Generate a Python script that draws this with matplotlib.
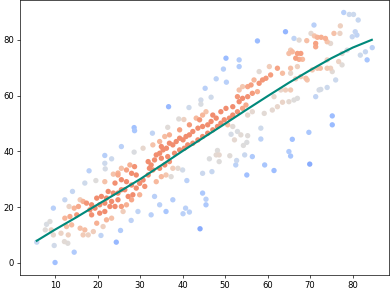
import numpy as np
import matplotlib
matplotlib.use("Agg")
import matplotlib.pyplot as plt
from matplotlib.colors import LinearSegmentedColormap

# ---- scatter data ----
x_vals = [
    18.0, 21.8, 17.0, 19.6, 14.1, 12.3, 9.6, 13.3, 14.5, 15.9, 17.4, 8.8, 8.0, 7.7, 9.1, 9.6, 5.7, 9.8, 14.5, 10.0,
    12.2, 13.0, 11.4, 13.1, 12.7, 13.9, 12.3, 13.5, 15.1, 15.9, 17.0, 16.6, 17.8, 19.0, 19.8, 21.3, 22.1, 20.8, 24.4, 25.4,
    23.3, 18.2, 16.6, 18.6, 19.4, 20.5, 21.7, 19.8, 20.9, 22.1, 23.3, 22.9, 24.1, 21.7, 20.5, 18.6, 22.5, 23.7, 24.8, 25.6,
    24.1, 21.7, 24.8, 23.7, 26.0, 15.5,
    28.6, 28.7, 25.6, 21.7, 23.3, 21.7, 28.6, 30.7, 36.9, 35.8, 34.6, 33.0, 32.2, 31.9, 30.7, 29.9, 31.1, 29.1, 28.0, 26.8,
    25.6, 26.4, 24.8, 25.6, 26.8, 28.0, 27.2, 28.3, 29.9, 29.1, 28.0, 26.8, 25.6, 24.8, 27.6, 28.7, 31.9, 33.8, 35.0, 36.1,
    37.7, 38.9, 40.0, 37.3, 37.7, 34.6, 36.1, 32.6, 29.5, 33.4, 27.9,
    49.6, 53.3, 47.9, 50.3, 45.3, 44.3, 46.7, 44.3, 36.7, 41.5, 39.1, 40.3, 36.5, 32.9,
    51.4, 53.7, 52.2, 51.8, 52.9,
    43.2, 44.0, 44.7, 45.5, 47.1, 47.9, 46.7, 45.9, 44.7, 43.6, 42.4, 41.6, 40.8, 40.1, 39.3, 38.5, 37.7, 36.9, 36.2, 35.4,
    34.6, 33.8, 33.4, 35.0, 36.5, 38.1, 39.3, 40.4, 41.2, 42.4, 43.6, 44.7, 45.9, 47.1, 48.2, 49.0, 49.8, 51.0, 51.8, 52.9,
    54.1, 54.9, 53.3, 54.1, 52.9, 51.8, 50.2, 49.0, 50.6, 39.3, 41.6, 36.9, 35.8, 34.6, 35.0, 33.0, 32.6,
    55.3, 58.4, 65.8, 69.7, 55.1, 54.3, 48.2, 48.6, 47.9, 51.1, 54.6, 56.4, 46.3, 48.6, 52.7, 52.5, 59.3, 61.5, 55.1, 65.0,
    65.4, 69.9, 44.7, 46.9, 41.0, 44.7, 45.5, 45.5, 40.7, 40.1, 41.6, 44.1,
    57.6, 50.2, 53.3, 58.0, 60.4, 62.3, 63.5, 60.7, 59.6, 58.8, 58.0, 56.8, 56.1, 55.3, 54.1, 53.3, 55.3, 56.4, 57.6, 55.3,
    56.4, 61.1, 59.2, 61.5, 63.1, 63.5, 62.3,
    77.9, 79.2, 80.2, 81.3, 70.9, 77.1, 75.6, 77.0, 80.6, 79.9, 81.0, 70.2, 71.0, 71.7, 72.6, 73.6, 74.0, 74.8, 71.3, 71.3,
    69.2, 67.4, 66.2, 64.2, 65.4, 65.0, 65.8, 67.0, 67.8, 66.6, 67.4, 68.2, 65.4, 67.0, 65.4, 66.6, 67.8, 69.0, 69.3,
    83.0, 84.6, 81.8, 83.4, 78.7, 77.5, 76.7, 77.5, 74.0, 74.8, 74.0, 72.4, 75.2, 76.0, 70.5, 71.7,
    64.2, 65.4, 67.0, 66.2, 65.0, 71.3, 72.1, 72.5, 74.0, 75.2, 75.2, 58.4,
]
y_vals = [
    33.0, 33.7, 28.6, 29.5, 25.6, 22.6, 19.6, 20.2, 19.6, 22.6, 21.4, 14.8, 13.8, 11.8, 11.8, 10.0, 7.4, 6.2, 3.8, 0.1,
    7.6, 7.0, 10.6, 10.0, 13.0, 13.6, 16.0, 16.6, 17.2, 12.4, 11.8, 10.0, 10.0, 11.2, 14.2, 13.0, 15.4, 9.8, 7.4, 11.6,
    16.0, 19.0, 22.0, 20.8, 19.6, 20.8, 21.4, 23.2, 23.8, 23.2, 22.0, 20.2, 20.2, 18.4, 17.8, 17.2, 25.6, 25.0, 22.6, 26.2,
    28.6, 29.1, 32.2, 31.8, 18.4, 20.2,
    48.5, 47.4, 41.7, 38.5, 37.3, 35.7, 39.7, 41.1, 36.3, 35.1, 33.9, 33.3, 33.9, 31.5, 29.7, 28.5, 27.4, 26.8, 27.9, 29.1,
    29.8, 26.2, 25.0, 20.2, 20.8, 22.6, 23.8, 24.4, 24.4, 31.5, 32.1, 33.3, 33.9, 31.5, 35.1, 34.5, 36.3, 29.1, 30.9, 31.5,
    33.9, 33.9, 33.3, 30.9, 22.6, 20.8, 18.4, 17.2, 18.4, 23.8, 15.2,
    69.5, 70.4, 66.0, 64.8, 62.6, 58.4, 59.4, 56.9, 56.0, 55.7, 51.6, 51.4, 48.6, 46.5,
    46.1, 45.9, 44.1, 48.9, 47.1,
    51.9, 51.3, 53.0, 54.2, 53.0, 51.9, 50.7, 49.5, 48.9, 48.3, 47.1, 45.9, 45.3, 44.1, 44.7, 43.5, 42.3, 42.9, 41.1, 40.5,
    39.3, 38.7, 36.9, 37.5, 38.1, 39.3, 40.5, 41.1, 42.3, 42.9, 44.1, 45.3, 46.5, 47.7, 48.9, 50.1, 51.3, 51.9, 53.0, 54.2,
    55.4, 56.6, 57.8, 59.0, 59.6, 56.0, 55.4, 54.2, 49.5, 47.7, 49.5, 45.9, 45.3, 43.5, 41.7, 42.3, 35.1,
    45.6, 44.4, 44.3, 46.8, 43.2, 42.1, 40.3, 38.7, 38.7, 38.4, 38.7, 38.1, 37.3, 36.3, 36.7, 35.1, 35.1, 33.1, 31.5, 39.9,
    38.3, 35.4, 32.1, 32.7, 29.5, 25.0, 22.8, 20.8, 19.6, 17.6, 18.2, 12.2,
    79.6, 73.4, 72.8, 68.6, 70.4, 69.8, 68.0, 67.4, 66.2, 65.6, 64.4, 65.6, 63.8, 63.2, 63.2, 62.0, 59.6, 60.8, 61.4, 53.0,
    54.2, 54.8, 53.6, 59.6, 62.0, 57.6, 56.0,
    89.8, 89.1, 89.1, 87.1, 85.3, 85.0, 82.3, 82.3, 82.9, 81.1, 81.7, 82.3, 81.4, 80.9, 80.9, 80.5, 79.3, 78.7, 77.5, 78.7,
    79.7, 79.9, 80.5, 82.9, 76.3, 75.1, 75.7, 75.1, 75.1, 73.4, 73.0, 73.0, 69.8, 70.4, 68.0, 66.0, 66.8, 66.2, 65.6,
    75.7, 77.2, 74.5, 72.8, 76.3, 75.1, 72.2, 71.0, 72.8, 69.8, 69.8, 69.8, 68.6, 65.6, 69.2, 69.8,
    62.0, 62.0, 59.0, 58.4, 57.8, 59.6, 62.0, 62.2, 62.9, 52.7, 49.5, 48.3,
]

# ---- fitted curve ----
line_x = [5.7, 10, 15, 20, 25, 30, 35, 40, 45, 50, 55, 60, 65, 70, 75, 80, 84.5]
line_y = [7.9, 11.9, 16.3, 20.9, 25.4, 30.0, 35.0, 40.1, 45.0, 49.9, 54.9, 59.8, 64.6, 69.1, 73.4, 77.2, 80.0]

x = np.array(x_vals)
y = np.array(y_vals)

# Gaussian KDE for point colours
xy = np.vstack([x, y])
n = xy.shape[1]
factor = 0.6 * n ** (-1.0 / 6.0)
cov = np.cov(xy) * factor ** 2
inv = np.linalg.inv(cov)
d = xy[:, :, None] - xy[:, None, :]
q = inv[0, 0] * d[0] ** 2 + 2 * inv[0, 1] * d[0] * d[1] + inv[1, 1] * d[1] ** 2
dens = np.exp(-0.5 * q).sum(axis=1)
dn = (dens - dens.min()) / (dens.max() - dens.min())
dn = dn ** 0.9

base = plt.get_cmap('coolwarm')
cmap = LinearSegmentedColormap.from_list('cw_trunc', base(np.linspace(0.24, 0.78, 256)))

order = np.argsort(dn)

fig = plt.figure(figsize=(390 / 61, 293 / 61), dpi=61)
ax = fig.add_axes([20 / 390, 18 / 293, 369 / 390, 275 / 293])
ax.scatter(x[order], y[order], c=dn[order], cmap=cmap, vmin=0, vmax=0.75, s=40, linewidths=0)
ax.plot(line_x, line_y, color='#00897b', lw=2.5)

fig.savefig('out.png', dpi=61)
